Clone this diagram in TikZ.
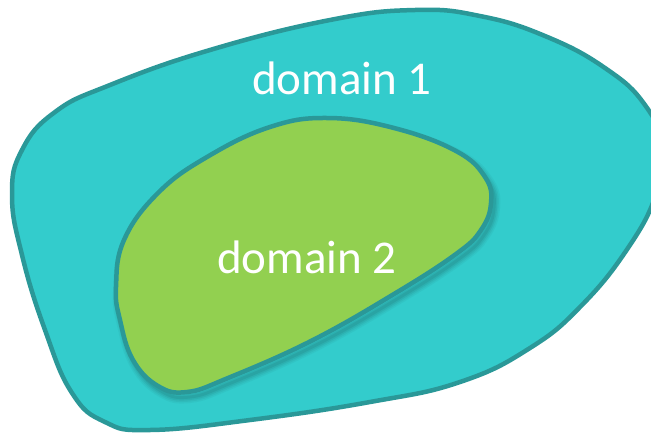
\documentclass[tikz,border=0pt]{standalone}
\usepackage{fontspec}
\setmainfont{Carlito}
\definecolor{outerfill}{HTML}{33CCCC}
\definecolor{rimteal}{HTML}{2A9898}
\definecolor{innerfill}{HTML}{92D050}
\definecolor{shade}{HTML}{1E7070}
\tikzset{
  outerblob/.style={insert path={plot[smooth cycle, tension=0.75] coordinates {
    (415,10) (480,16) (545,36) (605,68) (645,105) (664,150) (656,195)
    (628,248) (582,305) (530,348) (460,382) (370,402) (250,420) (150,430)
    (105,422) (72,393) (45,330) (22,255) (12,195) (22,150) (55,112)
    (110,85) (210,50) (330,20)}}},
  innerblob/.style={insert path={plot[smooth cycle, tension=0.7] coordinates {
    (328,118) (394,128) (456,151) (485,177) (491,203) (481,230) (456,254)
    (394,294) (311,341) (228,378) (187,392) (158,386) (133,360) (120,320)
    (116,287) (124,240) (158,193) (207,157) (270,127)}}},
  label/.style={text=white, font=\fontsize{47}{50}\selectfont, inner sep=0pt}
}
\begin{document}
\begin{tikzpicture}[x=1pt, y=-1pt]
  \useasboundingbox (0,0) rectangle (651,432);
  \clip (0,0) rectangle (651,432);
  % outer region
  \path[outerblob, fill=outerfill, draw=rimteal, line width=4.5pt] ;
  % soft shadow under the inner region
  \foreach \w/\o in {12/0.08, 9/0.10, 6/0.14, 3/0.18} {
    \path[shift={(3,5)}, innerblob, draw=shade, line width=\w pt, opacity=\o, line join=round] ;
  }
  % inner region
  \path[innerblob, fill=innerfill, draw=rimteal, line width=4.5pt] ;
  \node[label] (d1) at (342,78) {domain 1};
  \node[label] (d2) at (307,257) {domain 2};
\end{tikzpicture}
\end{document}
